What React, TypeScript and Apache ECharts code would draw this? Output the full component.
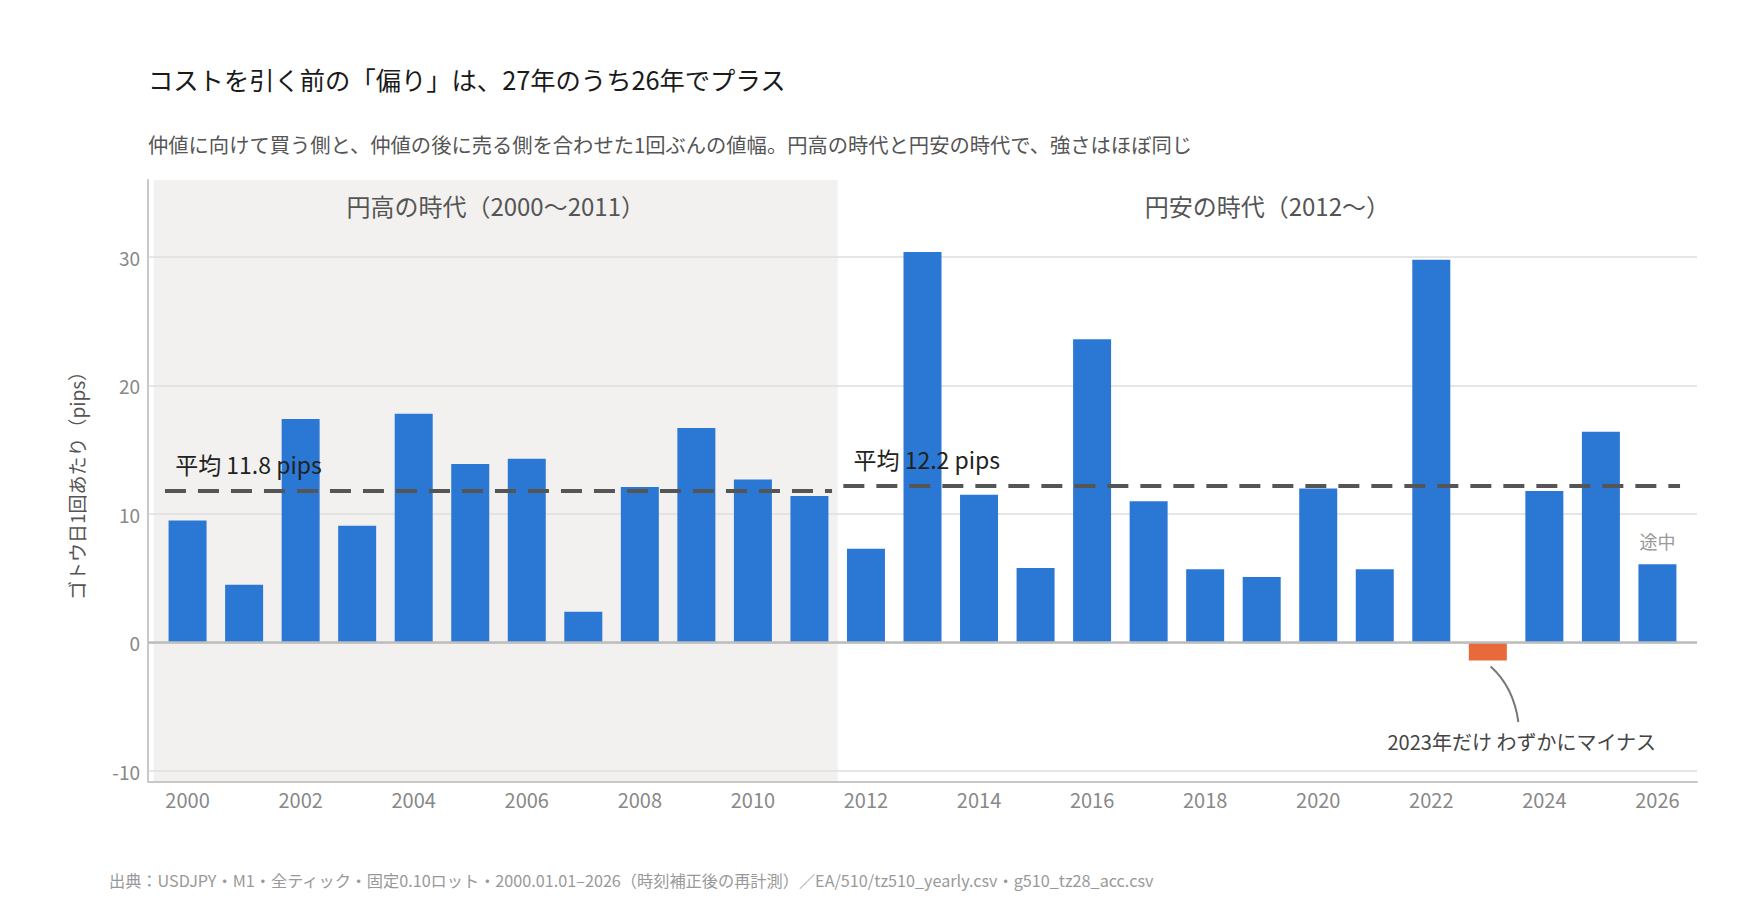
import React, { useEffect, useRef } from "react";
import * as echarts from "echarts";

const years = [2000, 2001, 2002, 2003, 2004, 2005, 2006, 2007, 2008, 2009, 2010, 2011, 2012, 2013, 2014, 2015, 2016, 2017, 2018, 2019, 2020, 2021, 2022, 2023, 2024, 2025, 2026];
const values = [9.5, 4.5, 17.4, 9.1, 17.8, 13.9, 14.3, 2.4, 12.1, 16.7, 12.7, 11.4, 7.3, 30.4, 11.5, 5.8, 23.6, 11.0, 5.7, 5.1, 12.0, 5.7, 29.8, -1.4, 11.8, 16.4, 6.1];
const eraLabels = ["円高の時代（2000～2011）", "円安の時代（2012～）"];
const eraBounds = [1999.4, 2011.5, 2026.7];
const means = [11.8, 12.2];
const meanRanges = [[1999.6, 2011.4], [2011.6, 2026.4]];
const meanTexts = ["平均 11.8 pips", "平均 12.2 pips"];
const yTicks = [-10, 0, 10, 20, 30];

const TITLE = "コストを引く前の「偏り」は、27年のうち26年でプラス";
const SUBTITLE = "仲値に向けて買う側と、仲値の後に売る側を合わせた1回ぶんの値幅。円高の時代と円安の時代で、強さはほぼ同じ";
const YNAME = "ゴトウ日1回あたり（pips）";
const NOTE = "2023年だけ わずかにマイナス";
const PARTIAL = "途中";
const SOURCE = "出典：USDJPY・M1・全ティック・固定0.10ロット・2000.01.01–2026（時刻補正後の再計測）／EA/510/tz510_yearly.csv・g510_tz28_acc.csv";

const FONT = '"Noto Sans CJK JP", "Noto Sans", sans-serif';
const BLUE = "#2B78D4";
const ORANGE = "#E8693A";

export default function App() {
  const ref = useRef<HTMLDivElement>(null);
  useEffect(() => {
    document.body.style.margin = "0";
    if (!ref.current) return;
    const chart = echarts.init(ref.current, null, { renderer: "svg" });
    const barData = years.map((y, i) => ({
      value: [y, values[i]],
      itemStyle: { color: values[i] < 0 ? ORANGE : BLUE },
    }));
    const option: any = {
      animation: false,
      textStyle: { fontFamily: FONT },
      grid: { left: 148, right: 43, top: 180, bottom: 118, containLabel: false },
      xAxis: {
        type: "value",
        min: 1999.3,
        max: 2026.7,
        splitNumber: 14,
        axisLine: { show: true, onZero: false, lineStyle: { color: "#c8c8c8", width: 2 } },
        axisTick: { show: false },
        splitLine: { show: false },
        axisLabel: {
          showMinLabel: false,
          showMaxLabel: false,
          color: "#888",
          fontSize: 20,
          fontFamily: FONT,
          margin: 7,
          formatter: (v: number) => (Math.abs(v - Math.round(v)) < 1e-6 && Math.round(v) % 2 === 0 ? String(Math.round(v)) : ""),
        },
      },
      yAxis: {
        type: "value",
        min: -10.85,
        max: 36,
        splitNumber: 5,
        name: YNAME,
        nameLocation: "middle",
        nameGap: 62,
        nameRotate: 90,
        nameTextStyle: { color: "#555", fontSize: 19, fontFamily: FONT },
        axisLine: { show: true, lineStyle: { color: "#c8c8c8", width: 2 } },
        axisTick: { show: false },
        splitLine: { show: true, showMinLine: false, showMaxLine: false, lineStyle: { color: "#dedede", width: 1.5 } },
        axisLabel: {
          showMinLabel: false,
          showMaxLabel: false,
          color: "#888",
          fontSize: 19,
          fontFamily: FONT,
          margin: 8,
          formatter: (v: number) => (yTicks.indexOf(Math.round(v)) >= 0 && Math.abs(v - Math.round(v)) < 1e-6 ? String(Math.round(v)) : ""),
        },
      },
      series: [
        {
          type: "bar",
          data: barData,
          barWidth: 38,
          markArea: {
            silent: true,
            z: -1,
            data: [
              [
                { xAxis: eraBounds[0], yAxis: 36, itemStyle: { color: "#F2F1EF" }, label: { show: true, formatter: eraLabels[0] } },
                { xAxis: eraBounds[1], yAxis: -10.85 },
              ],
              [
                { xAxis: eraBounds[1], yAxis: 36, itemStyle: { color: "rgba(0,0,0,0)" }, label: { show: true, formatter: eraLabels[1] } },
                { xAxis: eraBounds[2], yAxis: -10.85 },
              ],
            ],
            label: { position: "insideTop", distance: 13, color: "#555", fontSize: 24, fontFamily: FONT },
          },
          markLine: {
            silent: true,
            symbol: ["none", "none"],
            label: { show: false },
            data: [
              { yAxis: 0, lineStyle: { color: "#bdbdbd", width: 2.5, type: "solid" } },
              [
                { coord: [meanRanges[0][0], means[0]], lineStyle: { color: "#555", width: 4, type: [21, 12] } },
                { coord: [meanRanges[0][1], means[0]] },
              ],
              [
                { coord: [meanRanges[1][0], means[1]], lineStyle: { color: "#555", width: 4, type: [21, 12] } },
                { coord: [meanRanges[1][1], means[1]] },
              ],
            ],
          },
        },
      ],
    };
    chart.setOption(option);

    const px = (x: number, y: number) => chart.convertToPixel({ gridIndex: 0 }, [x, y]) as number[];
    const m1 = px(1999.78, means[0]);
    const m2 = px(2011.78, means[1]);
    const partial = px(2026, values[26]);
    const note = px(2023.6, -7.7);
    const cStart = px(2023.05, -1.4);
    const cEnd = px(2023.54, -6.18);
    const mid = [(cStart[0] + cEnd[0]) / 2, (cStart[1] + cEnd[1]) / 2];
    const dx = cEnd[0] - cStart[0];
    const dy = cEnd[1] - cStart[1];
    const len = Math.sqrt(dx * dx + dy * dy);
    const perp = [dy / len, -dx / len];
    const cp = [mid[0] + perp[0] * 10, mid[1] + perp[1] * 10];

    chart.setOption({
      graphic: [
        { type: "text", left: 148, top: 66, style: { text: TITLE, fill: "#1a1a1a", font: `25.3px ${FONT}` } },
        { type: "text", left: 148, top: 134, style: { text: SUBTITLE, fill: "#555", font: `20.3px ${FONT}` } },
        { type: "text", left: 109, top: 872, style: { text: SOURCE, fill: "#999", font: `16.2px ${FONT}` } },
        { type: "text", x: m1[0], y: m1[1] - 27, style: { text: meanTexts[0], fill: "#222", font: `23px ${FONT}`, verticalAlign: "middle", align: "left" }, z: 10 },
        { type: "text", x: m2[0], y: m2[1] - 27, style: { text: meanTexts[1], fill: "#222", font: `23px ${FONT}`, verticalAlign: "middle", align: "left" }, z: 10 },
        { type: "text", x: partial[0], y: partial[1] - 23, style: { text: PARTIAL, fill: "#999", font: `18px ${FONT}`, verticalAlign: "middle", align: "center" }, z: 10 },
        { type: "text", x: note[0], y: note[1], style: { text: NOTE, fill: "#444", font: `20px ${FONT}`, verticalAlign: "middle", align: "center" }, z: 10 },
        {
          type: "bezierCurve",
          shape: { x1: cStart[0], y1: cStart[1] + 6, x2: cEnd[0], y2: cEnd[1], cpx1: cp[0], cpy1: cp[1] },
          style: { stroke: "#777", lineWidth: 2, fill: "none" },
          z: 10,
        },
      ],
    });
    return () => chart.dispose();
  }, []);
  return <div ref={ref} style={{ width: 1740, height: 900 }} />;
}
